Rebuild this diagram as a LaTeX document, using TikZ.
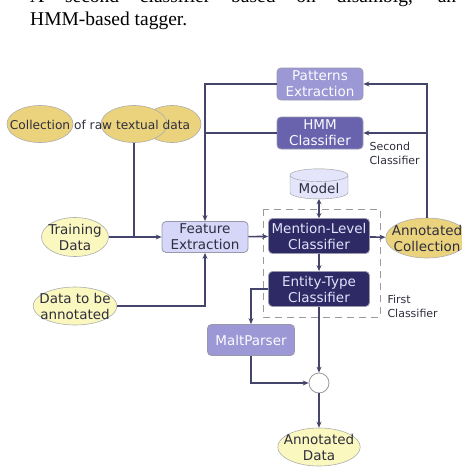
\documentclass[tikz,border=0pt]{standalone}
\usepackage{fontspec}
\setmainfont{Liberation Serif}
\newfontfamily\mapfont{DejaVu Sans}
\usetikzlibrary{positioning,arrows.meta,shapes.geometric}
\definecolor{mpLine}{HTML}{45456B}
\definecolor{mpText}{HTML}{2E2E3E}
\definecolor{mpPale}{HTML}{D6D6F8}
\definecolor{mpLilac}{HTML}{9C97D5}
\definecolor{mpPurple}{HTML}{6963AE}
\definecolor{mpNavy}{HTML}{2D2A66}
\definecolor{mpGold}{HTML}{EBD27C}
\definecolor{mpCream}{HTML}{FAF8BE}
\definecolor{mpGrey}{HTML}{9A9A9A}

\begin{document}
\begin{tikzpicture}[
    x=1pt, y=-1pt,
    mapfont/.style={font=\mapfont\fontsize{13.5}{16}\selectfont},
    box/.style={mapfont, rectangle, rounded corners=4pt, draw=mpLine!55,
      line width=.8pt, align=center, inner sep=1pt,
      minimum width=86pt, minimum height=32pt},
    darkbox/.style={box, fill=mpNavy, text=mpPale!70!white,
      minimum width=101pt, minimum height=35pt},
    blob/.style={mapfont, ellipse, draw=mpGrey!80, line width=.6pt,
      inner xsep=-6pt, inner ysep=-4pt, align=center, text=mpText},
    note/.style={font=\mapfont\fontsize{11}{14}\selectfont, text=mpText,
      align=left, anchor=west},
    line/.style={draw=mpLine, line width=1.6pt},
    link/.style={line, -{Stealth[length=6pt,width=5pt]}}
  ]
  \useasboundingbox (0,0) rectangle (461,469);

  % caption text above the map
  \node[font=\fontsize{19.5}{22}\selectfont, anchor=base west, inner sep=0pt]
    (capA) at (30,2) {\makebox[426pt][s]{A second classifier based on disambig, an}};
  \node[font=\fontsize{19.5}{22}\selectfont, anchor=base west, inner sep=0pt]
    (capB) at (30,25) {HMM-based tagger.};

  % sources
  \node[blob, fill=mpGold, minimum width=66pt, minimum height=37pt] (coll1) at (40,124) {};
  \node[blob, fill=mpGold, minimum width=58pt, minimum height=37pt] (coll3) at (172,124) {};
  \node[blob, fill=mpGold, minimum width=66pt, minimum height=37pt] (coll2) at (134,124) {};
  \node[font=\mapfont\fontsize{12.2}{14}\selectfont, text=mpText, inner sep=0pt] (colltext) at (100,125) {Collection of raw textual data};
  \node[blob, fill=mpCream, minimum width=67pt, minimum height=39pt] (train) at (75,237) {Training\\Data};
  \node[blob, fill=mpCream, minimum width=66pt, minimum height=38pt] (toann) at (75,306) {Data to be\\annotated};

  % processing boxes
  \node[box, fill=mpLilac, text=white!92!mpPale] (pat) at (320,84) {Patterns\\Extraction};
  \node[box, fill=mpPurple, text=white!90!mpPale] (hmm) at (320,133) {HMM\\Classifier};
  \node[mapfont, cylinder, shape border rotate=90, aspect=.3, draw=mpGrey,
    fill=mpPale!65!white, text=mpText, minimum width=58pt, minimum height=30pt,
    inner sep=1pt] (model) at (319,188) {Model};
  \node[box, fill=mpPale, text=mpText, minimum height=31pt] (feat) at (205,237) {Feature\\Extraction};
  \node[darkbox] (mention) at (319,236) {Mention-Level\\Classifier};
  \node[darkbox] (entity) at (319,289) {Entity-Type\\Classifier};
  \node[box, fill=mpLilac, text=white!92!mpPale, minimum width=87pt, minimum height=31pt] (malt) at (251,340) {MaltParser};
  \node[circle, draw=mpGrey, fill=white, line width=.8pt, minimum size=20pt, inner sep=0pt] (join) at (319,383) {};

  % results
  \node[blob, fill=mpGold, minimum width=68pt, minimum height=40pt] (anncoll) at (427,238) {Annotated\\Collection};
  \node[blob, fill=mpCream, minimum width=69pt, minimum height=38pt] (anndata) at (319,447) {Annotated\\Data};

  % first classifier frame
  \draw[mpGrey, line width=1pt, dash pattern=on 7pt off 5pt] (263,209) rectangle (380,317);
  \node[note] (firstlab) at (384,306) {First\\Classifier};
  \node[note] (secondlab) at (366,153) {Second\\Classifier};

  % connectors
  \draw[line] (coll2.south) -- (coll2.south |- train.east);
  \draw[link] (train) -- (feat);
  \draw[link] (pat.west) -| (feat.north);
  \draw[line] (hmm.west) -- (hmm.west -| feat.north);
  \draw[link] (anncoll.north) |- (pat.east);
  \draw[link] (anncoll.north |- hmm.east) -- (hmm.east);
  \draw[line, {Stealth[length=5pt,width=5pt]}-{Stealth[length=5pt,width=5pt]}] (model) -- (mention);
  \draw[link] (feat) -- (mention);
  \draw[link] (mention) -- (anncoll);
  \draw[link] (mention) -- (entity);
  \draw[link] (toann.east) -| (feat.south);
  \draw[link] (entity.west) -| (malt.north);
  \draw[link] (malt.south) |- (join.west);
  \draw[link] (entity) -- (join);
  \draw[link] (join) -- (anndata);
\end{tikzpicture}
\end{document}
